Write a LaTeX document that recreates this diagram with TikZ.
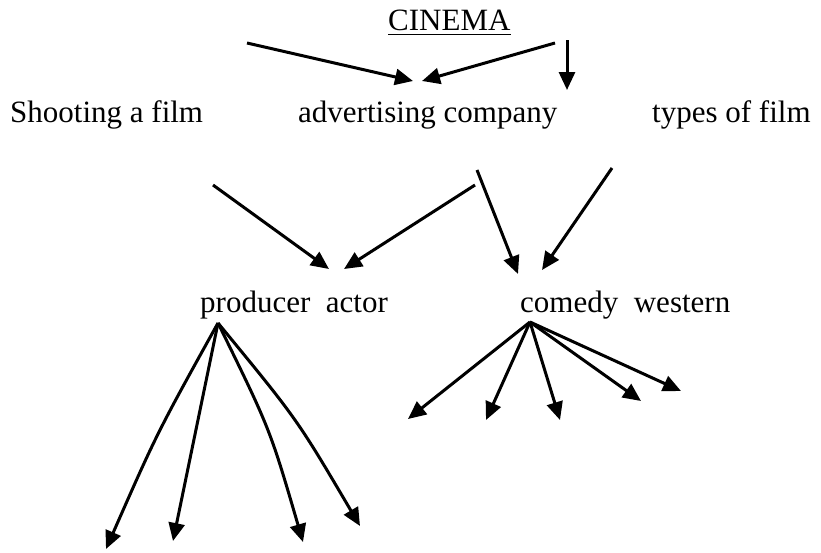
\documentclass[tikz,border=0pt]{standalone}
\usepackage{fontspec}
\setmainfont{Liberation Serif}
\usetikzlibrary{arrows.meta}
\begin{document}
\begin{tikzpicture}[x=1pt,y=-1pt,
  lbl/.style={anchor=base west,inner sep=0pt,font=\fontsize{31}{36}\selectfont},
  arr/.style={line width=3pt,-{Triangle[length=18pt,width=16pt]}}]
\useasboundingbox (0,0) rectangle (821,552);
% texts
\node[lbl] (cinema) at (388,30) {CINEMA};
\draw[line width=1.8pt] ([yshift=-4.5pt]cinema.base west) -- ([yshift=-4.5pt]cinema.base east);
\node[lbl] (shoot) at (10,122) {Shooting a film};
\node[lbl] (adv) at (298,122) {advertising company};
\node[lbl] (types) at (652,122) {types of film};
\node[lbl] (prod) at (200,312) {producer\ \ actor};
\node[lbl] (com) at (520,312) {comedy\ \ western};
% arrow ends
\coordinate (t1) at (247,43);  \coordinate (h1) at (413,81);
\coordinate (t2) at (555,43);  \coordinate (h2) at (422,81);
\coordinate (t3) at (567,40);  \coordinate (h3) at (567,90);
\coordinate (m1t) at (213,185); \coordinate (m1h) at (329,269);
\coordinate (m2t) at (475,185); \coordinate (m2h) at (344,269);
\coordinate (m3t) at (477,170); \coordinate (m3h) at (518,274);
\coordinate (m4t) at (612,168); \coordinate (m4h) at (542,270);
\coordinate (pa) at (218,323);
\coordinate (p1) at (106,549); \coordinate (p2) at (173,541);
\coordinate (p3) at (303,542); \coordinate (p4) at (360,526);
\coordinate (ca) at (530,322);
\coordinate (c1) at (408,419); \coordinate (c2) at (486,420);
\coordinate (c3) at (560,420); \coordinate (c4) at (641,401);
\coordinate (c5) at (681,391);
% connectors
\draw[arr] (t1) -- (h1);
\draw[arr] (t2) -- (h2);
\draw[arr] (t3) -- (h3);
\draw[arr] (m1t) -- (m1h);
\draw[arr] (m2t) -- (m2h);
\draw[arr] (m3t) -- (m3h);
\draw[arr] (m4t) -- (m4h);
\draw[arr] (pa) .. controls (157,433) .. (p1);
\draw[arr] (pa) -- (p2);
\draw[arr] (pa) .. controls (270,429) .. (p3);
\draw[arr] (pa) .. controls (297,419) .. (p4);
\foreach \c in {c1,c2,c3,c4,c5} \draw[arr] (ca) -- (\c);
\end{tikzpicture}
\end{document}
